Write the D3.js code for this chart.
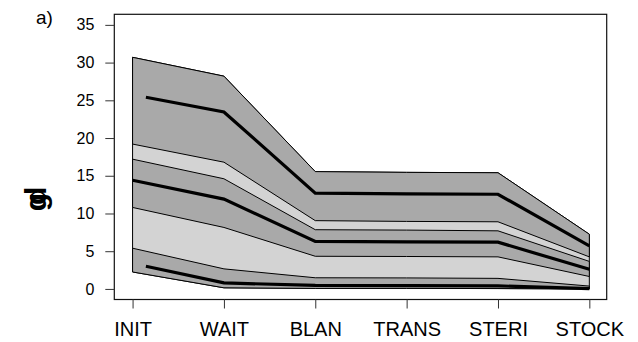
<!DOCTYPE html>
<html><head><meta charset="utf-8">
<script src="https://cdn.jsdelivr.net/npm/d3@7"></script>
<style>html,body{margin:0;padding:0;background:#fff;}svg{display:block;font-family:"Liberation Sans",Arial,sans-serif;}</style>
</head><body>
<svg id="c" width="638" height="342"></svg>
<script>
const categories = ["INIT","WAIT","BLAN","TRANS","STERI","STOCK"];
const yTicks = [0,5,10,15,20,25,30,35];
// band limits per group (upper / lower) at each category
const highUpper = [30.7, 28.2, 15.55, 15.45, 15.4, 7.25];
const highLower = [19.2, 16.8, 9.05, 8.95, 8.9, 4.25];
const midUpper  = [17.2, 14.6, 7.85, 7.8, 7.7, 3.65];
const midLower  = [10.8, 8.15, 4.33, 4.3, 4.25, 1.65];
const lowUpper  = [5.4, 2.66, 1.48, 1.46, 1.4, 0.38];
const lowLower  = [2.25, 0.15, 0.07, 0.07, 0.05, 0.0];
// median lines: position in category index units and values
const highLineX = [0.146, 1, 2, 3, 4, 5];
const highLine  = [25.4, 23.45, 12.7, 12.6, 12.55, 5.7];
const midLineX  = [0, 1, 2, 3, 4, 5];
const midLine   = [14.4, 11.9, 6.3, 6.25, 6.2, 2.6];
const lowLineX  = [0.146, 1, 2, 3, 4, 5];
const lowLine   = [3.0, 0.8, 0.46, 0.45, 0.4, 0.05];

const svg = d3.select("#c");
const box = {l:114.3, r:606.7, t:14.3, b:299.5};
const n = categories.length;
const x = d3.scaleLinear().domain([-0.2, n-1+0.19]).range([box.l, box.r]);
const y = d3.scaleLinear().domain([-1.4, 36.4]).range([box.b, box.t]);

const idx = d3.range(n);
function outline(up, lo){
  const pts = idx.map(i=>[x(i), y(up[i])]).concat(idx.slice().reverse().map(i=>[x(i), y(lo[i])]));
  return d3.line()(pts) + "Z";
}
const light = "#d3d3d3", dark = "#a9a9a9";
// light envelope
svg.append("path").attr("d", outline(highUpper, lowLower)).attr("fill", light).attr("stroke","#000").attr("stroke-width",1);
[[highUpper,highLower],[midUpper,midLower],[lowUpper,lowLower]].forEach(([u,l])=>{
  svg.append("path").attr("d", outline(u,l)).attr("fill", dark).attr("stroke","#000").attr("stroke-width",1);
});
const ln = d3.line().x(d=>x(d[0])).y(d=>y(d[1]));
[[highLineX,highLine],[midLineX,midLine],[lowLineX,lowLine]].forEach(([xs,vs])=>{
  svg.append("path").attr("d", ln(xs.map((v,i)=>[v, vs[i]]))).attr("fill","none").attr("stroke","#000").attr("stroke-width",3.2);
});

// box
svg.append("rect").attr("x",box.l).attr("y",box.t).attr("width",box.r-box.l).attr("height",box.b-box.t)
  .attr("fill","none").attr("stroke","#111").attr("stroke-width",1.2);

// y axis
const yAxis = svg.append("g").attr("transform",`translate(${box.l},0)`)
  .call(d3.axisLeft(y).tickValues(yTicks).tickSize(9).tickPadding(11));
yAxis.select(".domain").remove();
yAxis.selectAll(".tick line").attr("stroke","#333");
yAxis.selectAll("text").attr("font-size",16).attr("fill","#000").attr("font-family","Liberation Sans, Arial, sans-serif");

// x axis
const xAxis = svg.append("g").attr("transform",`translate(0,${box.b})`)
  .call(d3.axisBottom(x).tickValues(idx).tickFormat(i=>categories[i]).tickSize(9).tickPadding(13));
xAxis.select(".domain").remove();
xAxis.selectAll(".tick line").attr("stroke","#333");
xAxis.selectAll("text").attr("font-size",20).attr("fill","#000").attr("font-family","Liberation Sans, Arial, sans-serif");

// panel label
svg.append("text").attr("x",36).attr("y",24).attr("font-size",19).text("a)");
// y label (overlapping glyphs)
const yl = svg.append("g").attr("transform","translate(46,205) rotate(-90)");
yl.append("text").attr("text-anchor","middle").attr("font-size",30).attr("font-weight","bold")
  .attr("letter-spacing","-12").text("gd");
</script>
</body></html>
